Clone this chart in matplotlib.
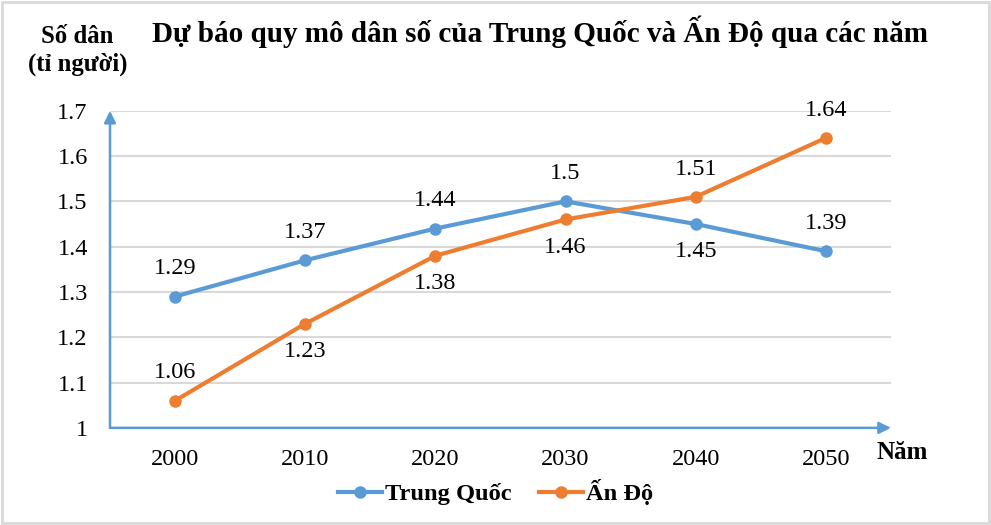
import numpy as np
import matplotlib.pyplot as plt
from matplotlib.patches import Rectangle

years = ["2000", "2010", "2020", "2030", "2040", "2050"]
china = [1.29, 1.37, 1.44, 1.50, 1.45, 1.39]
india = [1.06, 1.23, 1.38, 1.46, 1.51, 1.64]
china_labels = ["1.29", "1.37", "1.44", "1.5", "1.45", "1.39"]
india_labels = ["1.06", "1.23", "1.38", "1.46", "1.51", "1.64"]
# label above (+1) or below (-1) the point
china_pos = [1, 1, 1, 1, -1, 1]
india_pos = [1, -1, -1, -1, 1, 1]

plt.rcParams['font.family'] = ['Liberation Serif', 'DejaVu Serif']

blue = '#5B9BD5'
orange = '#ED7D31'
fs = 17.5

fig = plt.figure(figsize=(9.91, 5.25), dpi=100)
ax = fig.add_axes([0.111, 0.185, 0.788, 0.604])

x = np.arange(len(years))
ax.plot(x, china, color=blue, lw=3, marker='o', ms=8, label='Trung Quốc', zorder=3)
ax.plot(x, india, color=orange, lw=3, marker='o', ms=8, label='Ấn Độ', zorder=3)

for xi, v, t, p in zip(x, china, china_labels, china_pos):
    ax.annotate(t, (xi, v), xytext=(0, 20 * p), textcoords='offset points',
                ha='center', va='center', fontsize=fs)
for xi, v, t, p in zip(x, india, india_labels, india_pos):
    ax.annotate(t, (xi, v), xytext=(0, 20 * p), textcoords='offset points',
                ha='center', va='center', fontsize=fs)

ax.set_xlim(-0.5, 5.5)
ax.set_ylim(1.0, 1.7)
ax.set_xticks(x)
ax.set_xticklabels(years)
ax.set_yticks([1.0, 1.1, 1.2, 1.3, 1.4, 1.5, 1.6, 1.7])
ax.set_yticklabels(["1", "1.1", "1.2", "1.3", "1.4", "1.5", "1.6", "1.7"])
ax.tick_params(axis='both', length=0, labelsize=fs)
ax.tick_params(axis='x', pad=15)
ax.tick_params(axis='y', pad=16)
ax.yaxis.grid(True, color='#D9D9D9', lw=1.5)
ax.set_axisbelow(True)
for s in ['top', 'right', 'left', 'bottom']:
    ax.spines[s].set_visible(False)

# axis arrows
ax.annotate('', xy=(0, 1.0), xytext=(0, 0), xycoords='axes fraction',
            arrowprops=dict(arrowstyle='-|>,head_length=0.7,head_width=0.35',
                            color=blue, lw=1.8, shrinkA=0, shrinkB=0))
ax.annotate('', xy=(1.0, 0), xytext=(0, 0), xycoords='axes fraction',
            arrowprops=dict(arrowstyle='-|>,head_length=0.7,head_width=0.35',
                            color=blue, lw=1.8, shrinkA=0, shrinkB=0))

fig.text(0.545, 0.94, "Dự báo quy mô dân số của Trung Quốc và Ấn Độ qua các năm",
         ha='center', va='center', fontsize=21, fontweight='bold')
fig.text(0.078, 0.903, "Số dân\n(tỉ người)", ha='center', va='center',
         fontsize=17.8, fontweight='bold', linespacing=1.25)
fig.text(0.910, 0.139, "Năm", ha='center', va='center', fontsize=18, fontweight='bold')

fig.legend(loc='center', bbox_to_anchor=(0.5, 0.062), ncol=2, frameon=False,
           prop={'size': 17.6, 'weight': 'bold'}, handlelength=1.8, columnspacing=1.1,
           handletextpad=0.15)

fig.patches.append(Rectangle((0.002, 0.003), 0.996, 0.994, transform=fig.transFigure,
                             fill=False, edgecolor='#D9D9D9', lw=2))

fig.savefig("out.png", dpi=100)
